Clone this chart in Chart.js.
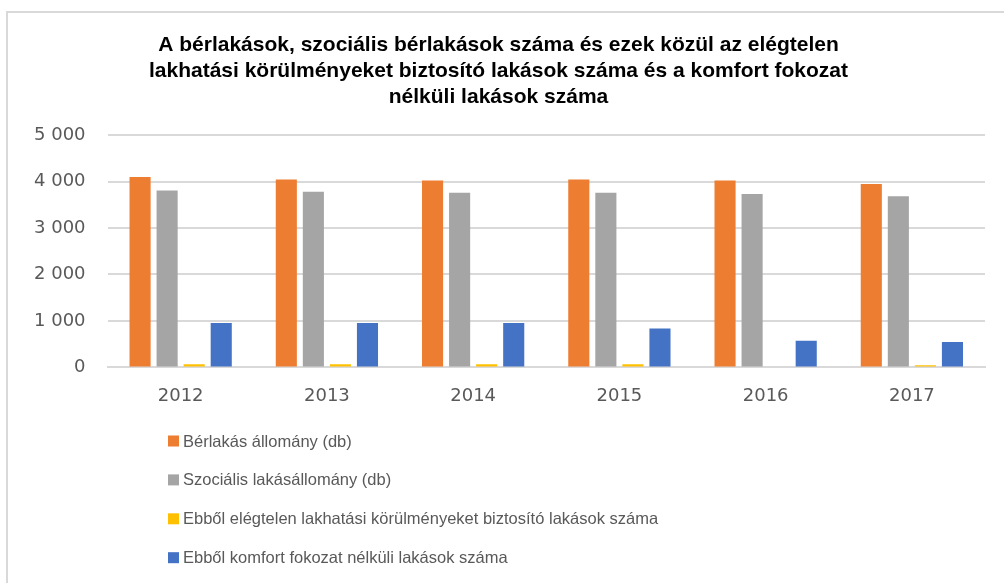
<!DOCTYPE html>
<html>
<head>
<meta charset="utf-8">
<script src="https://cdn.jsdelivr.net/npm/chart.js@4"></script>
<style>
  html, body { margin: 0; padding: 0; background: #fff; }
  #wrap { position: relative; width: 1004px; height: 583px; overflow: hidden; }
  #frame { position: absolute; left: 6px; top: 11px; width: 1100px; height: 700px;
           border-top: 2px solid #d9d9d9; border-left: 2px solid #d9d9d9; }
  #c { position: absolute; left: 0; top: 0; }
</style>
</head>
<body>
<div id="wrap">
  <div id="frame"></div>
  <canvas id="c" width="1004" height="583"></canvas>
</div>
<script>
// years on the x axis
const years = ['2012', '2013', '2014', '2015', '2016', '2017'];

// series (db)
const berlakas = [4100, 4045, 4025, 4045, 4025, 3950];
const szocialis = [3810, 3780, 3760, 3760, 3735, 3685];
const elegtelen = [70, 70, 70, 70, 0, 45];
const komfortNelkuli = [955, 955, 955, 835, 575, 545];

const seriesNames = [
  'Bérlakás állomány (db)',
  'Szociális lakásállomány (db)',
  'Ebből elégtelen lakhatási körülményeket biztosító lakások száma',
  'Ebből komfort fokozat nélküli lakások száma'
];
const seriesColors = ['#ED7D31', '#A5A5A5', '#FFC000', '#4472C4'];

const titleLines = [
  'A bérlakások, szociális bérlakások száma és ezek közül az elégtelen',
  'lakhatási körülményeket biztosító lakások száma és a komfort fokozat',
  'nélküli lakások száma'
];

const fontFam = '"Liberation Sans", Arial, sans-serif';
const tickFam = '"DejaVu Sans", sans-serif';
const textGray = '#595959';

// simple vertical legend under the plot, like in the excel chart
const listLegend = {
  id: 'listLegend',
  afterDraw(chart) {
    const ctx = chart.ctx;
    ctx.save();
    ctx.font = '16.5px ' + fontFam;
    ctx.textBaseline = 'middle';
    chart.data.datasets.forEach((ds, i) => {
      const y = 441 + i * 38.9;
      ctx.fillStyle = ds.backgroundColor;
      ctx.fillRect(168, y - 5.5, 11, 11);
      ctx.fillStyle = textGray;
      ctx.fillText(ds.label, 183, y + 1);
    });
    ctx.restore();
  }
};

const allSeries = [berlakas, szocialis, elegtelen, komfortNelkuli];

new Chart(document.getElementById('c'), {
  type: 'bar',
  data: {
    labels: years,
    datasets: allSeries.map((vals, i) => ({
      label: seriesNames[i],
      data: vals,
      backgroundColor: seriesColors[i],
      barPercentage: 0.78,
      categoryPercentage: 0.74
    }))
  },
  options: {
    responsive: false,
    animation: false,
    layout: { padding: { left: 12, right: 19, top: 32, bottom: 166 } },
    plugins: {
      legend: { display: false },
      tooltip: { enabled: false },
      title: {
        display: true,
        text: titleLines,
        color: '#000',
        font: { family: fontFam, size: 21, weight: 'bold', lineHeight: 1.24 },
        padding: { top: 0, bottom: 25 }
      }
    },
    scales: {
      x: {
        grid: { display: false },
        border: { color: '#d9d9d9', width: 2 },
        ticks: { color: textGray, font: { family: tickFam, size: 18 }, padding: 10 }
      },
      y: {
        min: 0,
        max: 5000,
        ticks: {
          stepSize: 1000,
          color: textGray,
          padding: 22,
          font: { family: tickFam, size: 18 },
          callback: v => String(v).replace(/\B(?=(\d{3})+(?!\d))/g, ' ')
        },
        grid: { color: '#d9d9d9', lineWidth: 2, drawTicks: false },
        border: { display: false }
      }
    }
  },
  plugins: [listLegend]
});
</script>
</body>
</html>
